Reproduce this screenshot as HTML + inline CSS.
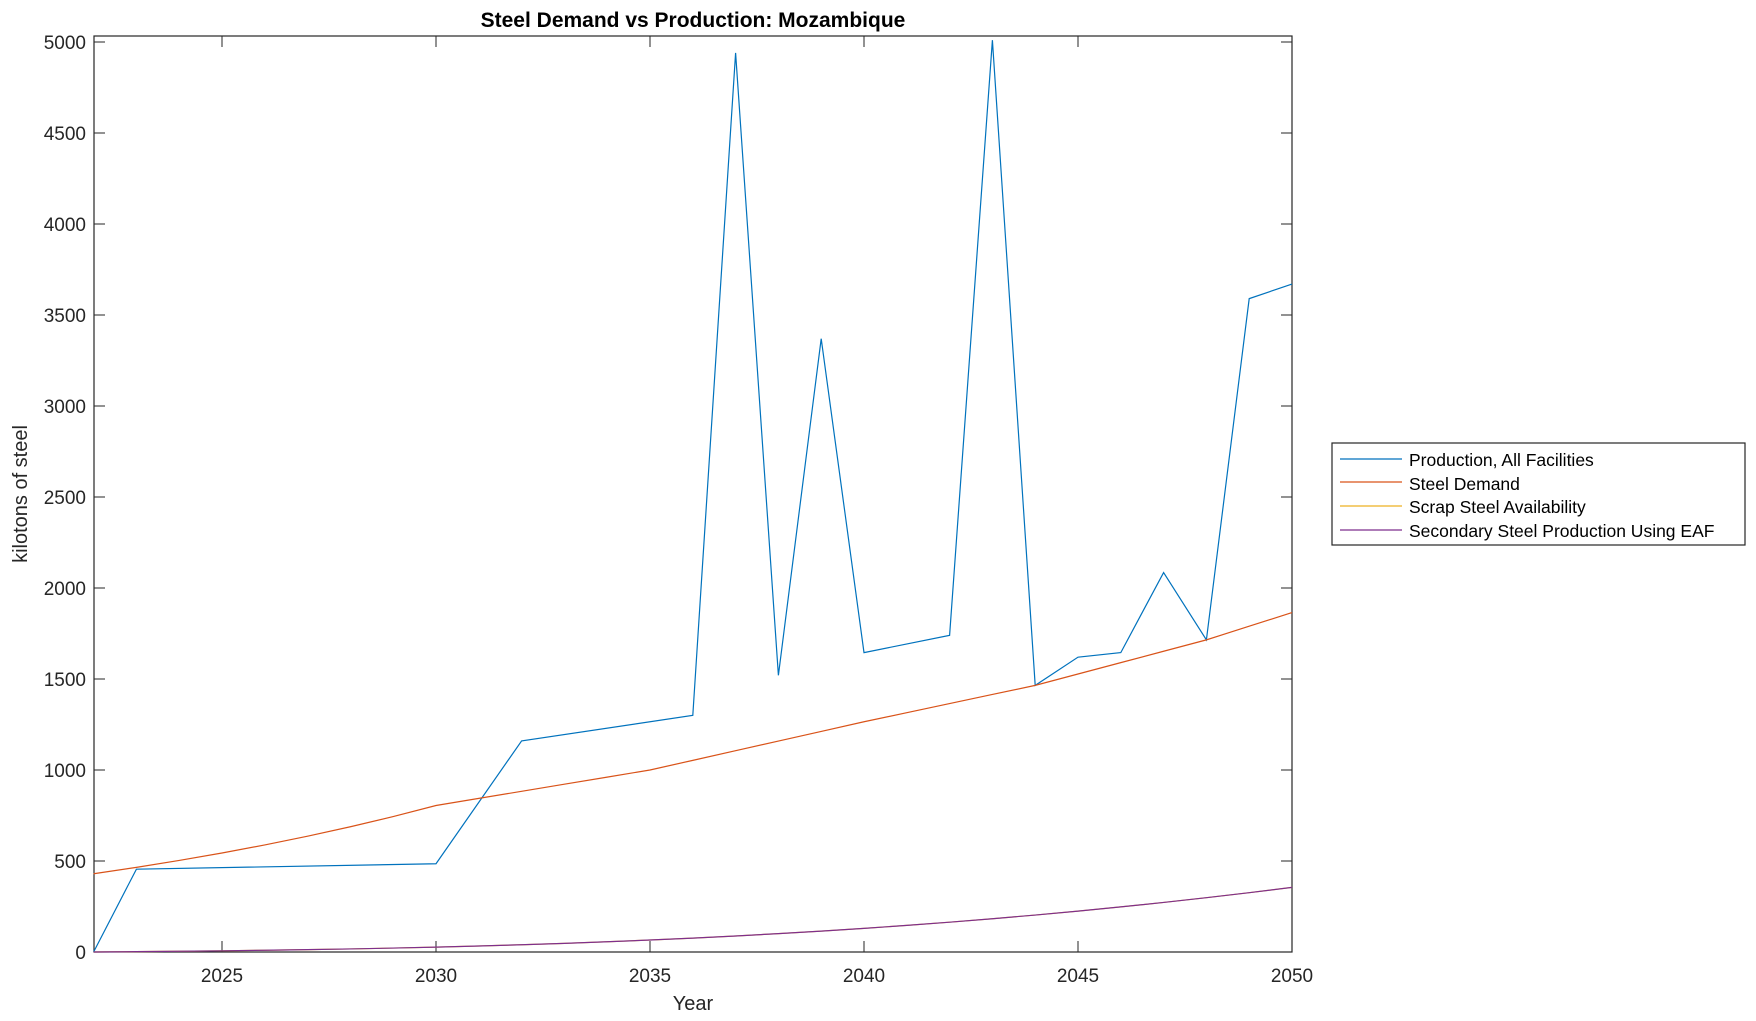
<!DOCTYPE html>
<html><head><style>
body{margin:0;background:#fff;}
svg{display:block;font-family:"Liberation Sans",Arial,sans-serif;}
</style></head><body>
<svg id="s" width="1756" height="1021" xmlns="http://www.w3.org/2000/svg">
<rect width="1756" height="1021" fill="#fff"/>
<text x="693" y="27" font-size="21" font-weight="bold" text-anchor="middle" fill="#000">Steel Demand vs Production: Mozambique</text>
<g id="ax"></g>
<rect x="94" y="36" width="1198" height="916" fill="none" stroke="#262626" stroke-width="1.2"/>
<text x="693" y="1010" font-size="20" text-anchor="middle" fill="#262626">Year</text>
<text transform="translate(27,494) rotate(-90)" font-size="20" text-anchor="middle" fill="#262626">kilotons of steel</text>
<g>
<rect x="1332" y="443" width="413" height="102" fill="#fff" stroke="#262626" stroke-width="1.2"/>
<line x1="1340" y1="459" x2="1402" y2="459" stroke="#0072BD" stroke-width="1.2"/>
<line x1="1340" y1="482" x2="1402" y2="482" stroke="#D95319" stroke-width="1.2"/>
<line x1="1340" y1="506" x2="1402" y2="506" stroke="#EDB120" stroke-width="1.2"/>
<line x1="1340" y1="530" x2="1402" y2="530" stroke="#7E2F8E" stroke-width="1.2"/>
<g font-size="17.5" fill="#000">
<text x="1409" y="466">Production, All Facilities</text>
<text x="1409" y="490">Steel Demand</text>
<text x="1409" y="513">Scrap Steel Availability</text>
<text x="1409" y="537">Secondary Steel Production Using EAF</text>
</g></g>
</svg>
<script>
const X=y=>93.6+(y-2022)*42.8, Y=v=>952-v*0.182;
const ns="http://www.w3.org/2000/svg", s=document.getElementById('s'), ax=document.getElementById('ax');
function el(t,a,p){const e=document.createElementNS(ns,t);for(const k in a)e.setAttribute(k,a[k]);(p||s).appendChild(e);return e;}
for(let y=2025;y<=2050;y+=5){el('line',{x1:X(y),x2:X(y),y1:952,y2:941,stroke:'#262626'},ax);el('line',{x1:X(y),x2:X(y),y1:36,y2:47,stroke:'#262626'},ax);
const t=el('text',{x:X(y),y:982,'font-size':19,'text-anchor':'middle',fill:'#262626'},ax);t.textContent=y;}
for(let v=0;v<=5000;v+=500){el('line',{x1:94,x2:105,y1:Y(v),y2:Y(v),stroke:'#262626'},ax);el('line',{x1:1292,x2:1281,y1:Y(v),y2:Y(v),stroke:'#262626'},ax);
const t=el('text',{x:86,y:Y(v)+7,'font-size':19,'text-anchor':'end',fill:'#262626'},ax);t.textContent=v;}
const prod=[[2022,0],[2023,455],[2030,485],[2032,1160],[2036,1300],[2037,4940],[2038,1520],[2039,3370],[2040,1645],[2042,1740],[2043,5010],[2044,1465],[2045,1620],[2046,1645],[2047,2085],[2048,1715],[2049,3590],[2050,3670]];
const dk=[[2030,805],[2035,1000],[2040,1265],[2044,1465],[2048,1715],[2050,1865]];
function interp(y){for(let i=0;i<dk.length-1;i++){const a=dk[i],b=dk[i+1];if(y>=a[0]&&y<=b[0])return a[1]+(b[1]-a[1])*(y-a[0])/(b[0]-a[0]);}return 1865;}
const dem=[],sec=[];
for(let y=2022;y<=2050;y++){let d=y<=2030?430*Math.pow(805/430,(y-2022)/8):interp(y);dem.push([y,d]);
let f=(y-2022)/28;sec.push([y,355*(0.15*f+0.85*Math.pow(f,2.6))]);}
function line(pts,c){el('polyline',{points:pts.map(p=>X(p[0])+','+Y(p[1])).join(' '),fill:'none',stroke:c,'stroke-width':1.2});}
line(prod,'#0072BD');line(dem,'#D95319');line(sec,'#EDB120');line(sec,'#7E2F8E');
</script>
</body></html>
